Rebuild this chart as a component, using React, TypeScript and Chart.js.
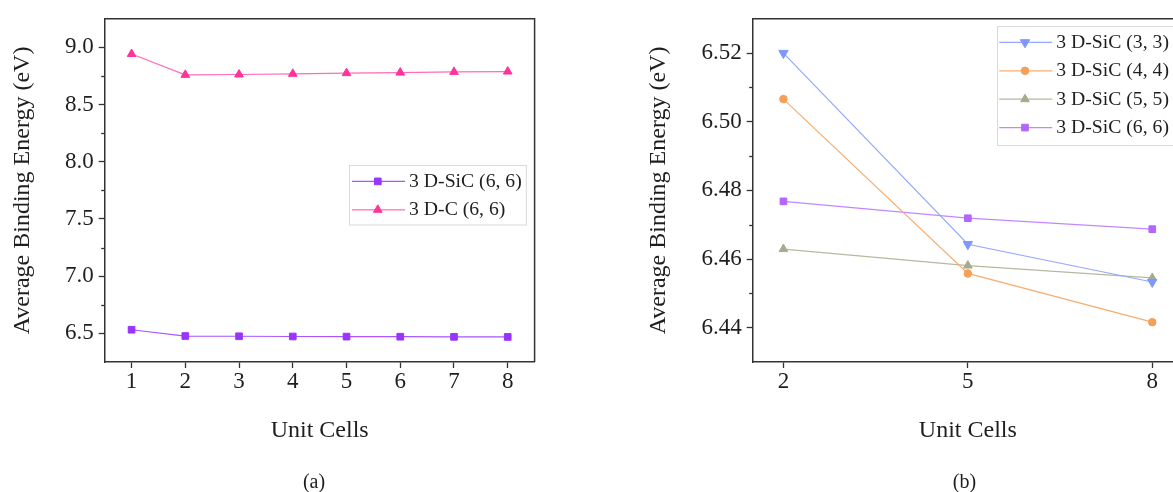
import React, { useEffect, useRef } from 'react';
import { Chart, registerables } from 'chart.js';
import { drawPoint } from 'chart.js/helpers';

Chart.register(...registerables);

// ---------- data: panel (a) ----------
const unitCellsA = [1, 2, 3, 4, 5, 6, 7, 8];
const sic66A = [6.532, 6.477, 6.475, 6.473, 6.472, 6.471, 6.47, 6.469];
const c66A = [8.942, 8.76, 8.763, 8.769, 8.775, 8.78, 8.786, 8.789];
const xTicksA = [1, 2, 3, 4, 5, 6, 7, 8];
const yTicksA = [6.5, 7.0, 7.5, 8.0, 8.5, 9.0];

// ---------- data: panel (b) ----------
const unitCellsB = [2, 5, 8];
const sic33B = [6.52, 6.4643, 6.4533];
const sic44B = [6.5066, 6.4558, 6.4416];
const sic55B = [6.4629, 6.4581, 6.4545];
const sic66B = [6.4768, 6.4719, 6.4687];
const xTicksB = [2, 5, 8];
const yTicksB = [6.44, 6.46, 6.48, 6.5, 6.52];

const FONT = "'Liberation Serif', 'Times New Roman', serif";
const AXIS = '#333333';
const TEXT = '#1e1e1e';

const pts = (xs: number[], ys: number[]) => xs.map((x, i) => ({ x, y: ys[i] }));

const framePlugin = {
  id: 'frame',
  afterDatasetsDraw(chart: any) {
    const { ctx, chartArea: a } = chart;
    ctx.save();
    ctx.strokeStyle = AXIS;
    ctx.lineWidth = 1.5;
    ctx.beginPath();
    ctx.moveTo(a.left, a.top);
    ctx.lineTo(a.right, a.top);
    ctx.lineTo(a.right, a.bottom);
    ctx.stroke();
    ctx.restore();
  },
};

const minorTicksPlugin = {
  id: 'minorTicks',
  afterDraw(chart: any, _args: any, opts: any) {
    const { ctx } = chart;
    const y = chart.scales.y;
    const vals = y.ticks.map((t: any) => t.value);
    ctx.save();
    ctx.strokeStyle = AXIS;
    ctx.lineWidth = 1.3;
    for (let i = 0; i < vals.length - 1; i++) {
      const mid = (vals[i] + vals[i + 1]) / 2;
      const py = Math.round(y.getPixelForValue(mid)) + 0.5;
      ctx.beginPath();
      ctx.moveTo(y.right - opts.length, py);
      ctx.lineTo(y.right, py);
      ctx.stroke();
    }
    ctx.restore();
  },
};

const boxLegendPlugin = {
  id: 'boxLegend',
  afterDatasetsDraw(chart: any, _args: any, o: any) {
    const { ctx, chartArea: a } = chart;
    const bx = a.left + o.dx;
    const by = a.top + o.dy;
    ctx.save();
    ctx.fillStyle = '#ffffff';
    ctx.fillRect(bx, by, o.w, o.h);
    ctx.strokeStyle = '#d9d9d9';
    ctx.lineWidth = 1;
    ctx.strokeRect(Math.round(bx) + 0.5, Math.round(by) + 0.5, o.w, o.h);
    chart.data.datasets.forEach((ds: any, i: number) => {
      const cy = by + o.firstRow + i * o.rowGap;
      ctx.strokeStyle = ds.borderColor;
      ctx.lineWidth = ds.borderWidth;
      ctx.beginPath();
      ctx.moveTo(bx + o.lineStart, cy);
      ctx.lineTo(bx + o.lineEnd, cy);
      ctx.stroke();
      ctx.fillStyle = ds.pointBackgroundColor;
      ctx.strokeStyle = ds.pointBorderColor;
      ctx.lineWidth = 1;
      drawPoint(
        ctx,
        { pointStyle: ds.pointStyle, rotation: ds.pointRotation || 0, radius: ds.pointRadius, borderWidth: 1 } as any,
        bx + o.markerX,
        cy
      );
      ctx.fillStyle = TEXT;
      ctx.font = `${o.fontSize}px ${FONT}`;
      ctx.textBaseline = 'middle';
      ctx.textAlign = 'left';
      ctx.fillText(ds.label, bx + o.textX, cy + 0.5);
    });
    ctx.restore();
  },
};

function series(label: string, data: any[], line: string, point: string, style: string, radius: number, rotation = 0) {
  return {
    label,
    data,
    borderColor: line,
    borderWidth: 1.2,
    pointBackgroundColor: point,
    pointBorderColor: point,
    pointBorderWidth: 1,
    pointStyle: style,
    pointRadius: radius,
    pointHoverRadius: radius,
    pointRotation: rotation,
    tension: 0,
    fill: false,
  };
}

function makeOptions(p: {
  xMin: number; xMax: number; yMin: number; yMax: number;
  xTicks: number[]; yTicks: number[]; yDigits: number;
  yAxisWidth: number; padRight: number; legend: any;
}) {
  return {
    responsive: false,
    animation: false as const,
    layout: { padding: { top: 15.7, right: p.padRight, bottom: 0, left: 0 } },
    plugins: {
      legend: { display: false },
      tooltip: { enabled: false },
      boxLegend: p.legend,
      minorTicks: { length: 3.5 },
    },
    scales: {
      x: {
        type: 'linear' as const,
        min: p.xMin,
        max: p.xMax,
        afterBuildTicks: (s: any) => { s.ticks = p.xTicks.map((v) => ({ value: v })); },
        afterFit: (s: any) => { s.height = 130; },
        ticks: {
          autoSkip: false,
          maxRotation: 0,
          padding: 0,
          color: TEXT,
          font: { family: FONT, size: 23 },
          callback: (v: any) => String(v),
        },
        grid: { drawOnChartArea: false, drawTicks: true, tickLength: 6, tickColor: AXIS, tickWidth: 1.3 },
        border: { display: true, color: AXIS, width: 1.5 },
        title: {
          display: true,
          text: 'Unit Cells',
          color: TEXT,
          font: { family: FONT, size: 24 },
          padding: { top: 0, bottom: 46.6 },
        },
      },
      y: {
        type: 'linear' as const,
        min: p.yMin,
        max: p.yMax,
        afterBuildTicks: (s: any) => { s.ticks = p.yTicks.map((v) => ({ value: v })); },
        afterFit: (s: any) => { s.width = p.yAxisWidth; },
        ticks: {
          autoSkip: false,
          padding: 5,
          color: TEXT,
          font: { family: FONT, size: 23 },
          callback: (v: any) => Number(v).toFixed(p.yDigits),
        },
        grid: { drawOnChartArea: false, drawTicks: true, tickLength: 6, tickColor: AXIS, tickWidth: 1.3 },
        border: { display: true, color: AXIS, width: 1.5 },
        title: {
          display: true,
          text: 'Average Binding Energy (eV)',
          color: TEXT,
          font: { family: FONT, size: 24 },
          padding: { top: 8.8, bottom: 0 },
        },
      },
    },
  };
}

function ChartCanvas({ config, width, height, left }: { config: () => any; width: number; height: number; left: number }) {
  const ref = useRef<HTMLCanvasElement | null>(null);
  useEffect(() => {
    if (!ref.current) return;
    const chart = new Chart(ref.current, config());
    return () => chart.destroy();
  }, []);
  return (
    <canvas
      ref={ref}
      width={width}
      height={height}
      style={{ position: 'absolute', left, top: 0, width, height, display: 'block' }}
    />
  );
}

const legendBase = { lineStart: 2.7, lineEnd: 55.7, markerX: 28.5, textX: 59.8, firstRow: 16, rowGap: 28.4, fontSize: 19.7 };

const configA = () => ({
  type: 'line' as const,
  data: {
    datasets: [
      series('3 D-SiC (6, 6)', pts(unitCellsA, sic66A), '#a955ff', '#9933ff', 'rect', 4.7),
      series('3 D-C (6, 6)', pts(unitCellsA, c66A), '#ff6bb8', '#ff3399', 'triangle', 5),
    ],
  },
  options: makeOptions({
    xMin: 0.5, xMax: 8.5, yMin: 6.25, yMax: 9.25,
    xTicks: xTicksA, yTicks: yTicksA, yDigits: 1,
    yAxisWidth: 104.7, padRight: 546 - 534.6,
    legend: { ...legendBase, dx: 244.6, dy: 146.6, w: 176.8, h: 59.5 },
  }),
  plugins: [framePlugin, minorTicksPlugin, boxLegendPlugin],
});

const configB = () => ({
  type: 'line' as const,
  data: {
    datasets: [
      series('3 D-SiC (3, 3)', pts(unitCellsB, sic33B), '#94a8ff', '#7f97ff', 'triangle', 5.4, 180),
      series('3 D-SiC (4, 4)', pts(unitCellsB, sic44B), '#f7ad70', '#f5a05a', 'circle', 3.8),
      series('3 D-SiC (5, 5)', pts(unitCellsB, sic55B), '#b5b99f', '#a7ab8c', 'triangle', 5),
      series('3 D-SiC (6, 6)', pts(unitCellsB, sic66B), '#c287ff', '#b366ff', 'rect', 4.7),
    ],
  },
  options: makeOptions({
    xMin: 1.5, xMax: 8.5, yMin: 6.43, yMax: 6.53,
    xTicks: xTicksB, yTicks: yTicksB, yDigits: 2,
    yAxisWidth: 116.7, padRight: 558 - 547,
    legend: { ...legendBase, dx: 243.8, dy: 7.6, w: 200, h: 119 },
  }),
  plugins: [framePlugin, minorTicksPlugin, boxLegendPlugin],
});

const captionStyle = (cx: number): React.CSSProperties => ({
  position: 'absolute',
  left: cx - 50,
  width: 100,
  top: 469,
  height: 24,
  lineHeight: '24px',
  textAlign: 'center',
  fontFamily: FONT,
  fontSize: 20,
  color: TEXT,
});

export default function App() {
  return (
    <div
      style={{
        position: 'absolute',
        left: 0,
        top: 0,
        width: 1173,
        height: 492,
        overflow: 'hidden',
        background: '#ffffff',
      }}
    >
      <ChartCanvas config={configA} width={546} height={492} left={0} />
      <ChartCanvas config={configB} width={558} height={492} left={636} />
      <div style={captionStyle(314)}>(a)</div>
      <div style={captionStyle(964.5)}>(b)</div>
    </div>
  );
}
